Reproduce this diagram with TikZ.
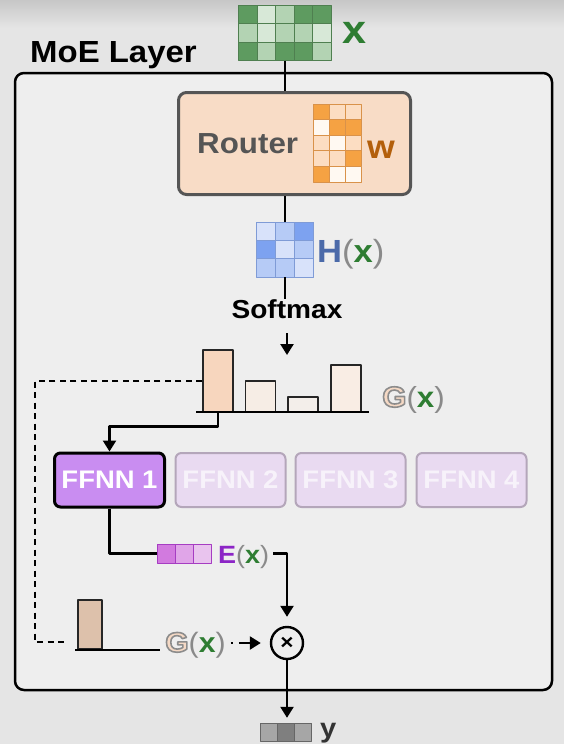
\documentclass[tikz,border=0pt]{standalone}
\usepackage{fontspec}
\setmainfont{Liberation Sans}[FakeStretch=1.08]
\usetikzlibrary{arrows.meta,calc}
\definecolor{bg}{HTML}{E5E5E5}
\definecolor{inner}{HTML}{EEEEEE}
\definecolor{xd}{HTML}{5E9B60}
\definecolor{xm}{HTML}{8DBE8D}
\definecolor{xl}{HTML}{B3D3B3}
\definecolor{xv}{HTML}{D7E8D7}
\definecolor{xgrid}{HTML}{4F7F50}
\definecolor{xgreen}{HTML}{2E7D32}
\definecolor{routerfill}{HTML}{F8DCC6}
\definecolor{routerborder}{HTML}{555555}
\definecolor{routertext}{HTML}{555555}
\definecolor{wo}{HTML}{F5A243}
\definecolor{wl}{HTML}{FCDDC2}
\definecolor{ww}{HTML}{FFF9F2}
\definecolor{wgrid}{HTML}{D9924A}
\definecolor{wbrown}{HTML}{B35F0B}
\definecolor{hm}{HTML}{7DA2F0}
\definecolor{hl}{HTML}{B6CBF6}
\definecolor{hv}{HTML}{D8E2FA}
\definecolor{hgrid}{HTML}{7F9BD6}
\definecolor{hblue}{HTML}{4B6AA9}
\definecolor{pgray}{HTML}{8A8A8A}
\definecolor{bA}{HTML}{F7D6BE}
\definecolor{bB}{HTML}{F6EDE5}
\definecolor{bC}{HTML}{F3EEEA}
\definecolor{bD}{HTML}{F9EDE4}
\definecolor{bE}{HTML}{DDC1AB}
\definecolor{gfill}{HTML}{F5D9C5}
\definecolor{ffon}{HTML}{C98DF1}
\definecolor{fffill}{HTML}{E9DAF1}
\definecolor{ffborder}{HTML}{B4A6BA}
\definecolor{fftext}{HTML}{F7F2FA}
\definecolor{eA}{HTML}{D27ADF}
\definecolor{eB}{HTML}{E0A5E8}
\definecolor{eC}{HTML}{E9C4EE}
\definecolor{eborder}{HTML}{A63DC2}
\definecolor{epurple}{HTML}{8C25C6}
\definecolor{yA}{HTML}{A6A6A6}
\definecolor{yB}{HTML}{7F7F7F}
\definecolor{ygrid}{HTML}{666666}
\newcommand\fsz[1]{\fontsize{#1}{#1}\selectfont}
\newcommand\outG{{\color{gfill}\special{pdf:literal direct 2 Tr 1.6 w 0.55 0.55 0.55 RG}G\special{pdf:literal direct 0 Tr}}}
\newcommand\pL{{\mdseries\color{pgray}(}}
\newcommand\pR{{\mdseries\color{pgray})}}
\newcommand\gx{{\color{xgreen}x}}
\newcommand\drawcells[6]{\foreach \c/\r/\cc in {#6}{\filldraw[fill=\cc,draw=#5,line width=0.9pt] ({#1+(\c-1)*#3},{#2+(\r-1)*#4}) rectangle ++(#3,#4);}}
\begin{document}
\begin{tikzpicture}[x=1pt,y=-1pt,line join=round,
  conn/.style={line width=2.4pt,draw=black},
  arr/.style={conn,-{Triangle[length=11pt,width=13pt]}},
  dashln/.style={line width=2pt,dash pattern=on 6pt off 4.5pt},
  barbox/.style={draw=black!85,line width=1.3pt,inner sep=0pt,minimum width=30pt},
  lbl/.style={anchor=base west,inner sep=0pt},
  mat/.style={inner sep=0pt},
  ffoff/.style={draw=ffborder,fill=fffill,line width=2pt,rounded corners=6pt,minimum width=110pt,minimum height=54pt,text=fftext,font=\bfseries\fsz{25.4}},
  ffonst/.style={ffoff,draw=black,fill=ffon,line width=3pt,text=white}]
\useasboundingbox (0,0) rectangle (564,744);
\fill[bg] (0,0) rectangle (564,744);
\shade[top color=black!22,bottom color=bg] (0,0) rectangle (564,28);
% outer box
\node[draw,line width=2.5pt,rounded corners=9pt,fill=inner,minimum width=537pt,minimum height=617pt,inner sep=0pt] (moe) at (283.5,381.5) {};
\node[lbl,font=\bfseries\fsz{30.5}] (title) at (30,62) {MoE Layer};
% X matrix
\node[mat,minimum width=93pt,minimum height=55pt] (X) at (285,33) {};
\drawcells{238.5}{5.5}{18.6}{18.33}{xgrid}{1/1/xd,2/1/xv,3/1/xl,4/1/xd,5/1/xd,1/2/xl,2/2/xv,3/2/xl,4/2/xl,5/2/xv,1/3/xd,2/3/xl,3/3/xd,4/3/xd,5/3/xl}
\node[lbl,text=xgreen,font=\bfseries\fsz{40}] (xlab) at (342,43) {x};
% Router
\node[draw=routerborder,fill=routerfill,line width=3pt,rounded corners=8pt,minimum width=232pt,minimum height=102pt,inner sep=0pt] (router) at (294.5,143.5) {};
\node[lbl,text=routertext,font=\bfseries\fsz{29}] (routerlab) at (197,153) {Router};
\node[mat,minimum width=49pt,minimum height=78pt] (W) at (337.5,143) {};
\drawcells{313}{104}{16.3}{15.6}{wgrid}{1/1/wo,2/1/wl,3/1/wl,1/2/ww,2/2/wo,3/2/wo,1/3/wl,2/3/ww,3/3/wl,1/4/wl,2/4/wl,3/4/wo,1/5/wo,2/5/ww,3/5/ww}
\node[lbl,text=wbrown,font=\bfseries\fsz{33}] (wlab) at (367,158) {w};
\draw[conn] (X.south) -- (X.south |- router.north);
% H matrix
\node[mat,minimum width=57pt,minimum height=55pt] (H) at (285,249.5) {};
\drawcells{256.5}{222}{19}{18.33}{hgrid}{1/1/hv,2/1/hl,3/1/hm,1/2/hm,2/2/hv,3/2/hl,1/3/hl,2/3/hl,3/3/hv}
\node[lbl,font=\bfseries\fsz{32}] (hlab) at (317,262) {{\color{hblue}H}\pL\gx\pR};
\draw[conn] (H.north |- router.south) -- (H.north);
% Softmax
\node[anchor=base,inner sep=0pt,font=\bfseries\fsz{26}] (softmax) at (287,318) {Softmax};
\draw[conn] (H.south) -- (H.south |- softmax.north);
\coordinate (gtop) at (287,355);
\draw[arr,shorten <=15pt] (softmax.south) -- (gtop);
% gating bars
\node[barbox,fill=bA,minimum height=62pt] (bar1) at (218,381) {};
\node[barbox,fill=bB,minimum height=31pt] (bar2) at (260.5,396.5) {};
\node[barbox,fill=bC,minimum height=15pt] (bar3) at (303,404.5) {};
\node[barbox,fill=bD,minimum height=47pt] (bar4) at (346,388.5) {};
\coordinate (gl) at (196,412);
\coordinate (gr) at (369,412);
\draw[conn] (gl) -- (gr);
\node[lbl,font=\bfseries\fsz{29}] (glab) at (382,407) {\outG\pL\gx\pR};
% experts
\node[ffonst] (ffnn1) at (109.5,480) {FFNN 1};
\node[ffoff] (ffnn2) at (230.5,480) {FFNN 2};
\node[ffoff] (ffnn3) at (350.5,480) {FFNN 3};
\node[ffoff] (ffnn4) at (471.5,480) {FFNN 4};
\draw[arr] (bar1.south) |- ($(ffnn1.north)+(0,-25)$) -- (ffnn1.north);
% dashed gate path
\coordinate (dashend) at (67,642);
\draw[dashln] (bar1.west) -| ($(dashend)+(-32,0)$) -- (dashend);
% E(x)
\node[mat,minimum width=54pt,minimum height=19pt] (evec) at (184,553.5) {};
\drawcells{157}{544}{18}{19}{eborder}{1/1/eA,2/1/eB,3/1/eC}
\node[lbl,font=\bfseries\fsz{25}] (elab) at (218,563) {{\color{epurple}E}\pL\gx\pR};
\draw[conn] (ffnn1.south) |- (evec.west);
% multiply
\node[circle,draw,line width=2.4pt,minimum size=32pt,inner sep=0pt,fill=inner,font=\bfseries\fsz{21}] (mult) at (287,643) {×};
\draw[arr,shorten >=9pt] ($(elab.east |- evec.east)+(4,0)$) -| (mult.north);
% bottom gate
\node[barbox,fill=bE,minimum width=24pt,minimum height=49pt] (sbar) at (90,624.5) {};
\coordinate (sbl) at (75,650);
\coordinate (sbr) at (160,650);
\draw[conn] (sbl) -- (sbr);
\node[lbl,font=\bfseries\fsz{28}] (glab2) at (165,652) {\outG\pL\gx\pR};
\draw[arr,dash pattern=on 2.5pt off 5.5pt on 60pt,shorten >=9pt] ($(glab2.east |- mult.west)+(5,0)$) -- (mult.west);
% output
\node[mat,minimum width=52pt,minimum height=18pt] (yvec) at (286,732) {};
\drawcells{260}{723}{17.3}{18}{ygrid}{1/1/yA,2/1/yB,3/1/yA}
\node[lbl,text=black!80,font=\bfseries\fsz{27}] (ylab) at (320,737) {y};
\draw[arr,shorten >=5pt] (mult.south) -- (mult.south |- yvec.north);
\end{tikzpicture}
\end{document}
